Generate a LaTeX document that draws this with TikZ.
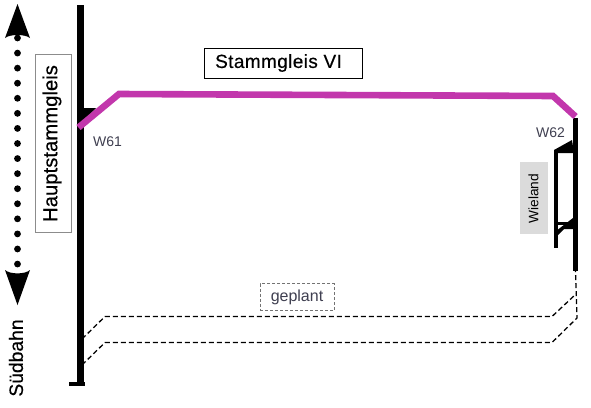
\documentclass[tikz,border=0pt]{standalone}
\usepackage{fontspec}
\setmainfont{Liberation Sans}
\newfontfamily\semibf[FakeBold=0.4]{Liberation Sans}
\definecolor{mag}{HTML}{C237AC}
\definecolor{lab}{HTML}{3F3F50}
\tikzset{
  x=1pt,y=-1pt,
  track/.style={line width=#1,draw=black},
  dashtrack/.style={draw=black,line width=1.3pt,dash pattern=on 5pt off 3pt},
  dots/.style={line width=6.8pt,line cap=round,dash pattern=on 0pt off 15.07pt},
  lab/.style={inner sep=0pt,text=lab,font=\fontsize{14}{14}\selectfont}
}
\begin{document}
\begin{tikzpicture}
\useasboundingbox (0,0) rectangle (591,407);
% main track
\coordinate (mainT) at (80.5,5);
\coordinate (mainB) at (80.5,384);
\coordinate (footL) at (69,384);
\coordinate (footR) at (85,384);
\draw[track=7.6pt] (mainT) -- (mainB);
\draw[track=3.4pt] (footL) -- (footR);
\fill (84,108) -- (96,108) -- (80,124) -- cycle;
% right tracks
\coordinate (rightT) at (575.5,118);
\coordinate (rightB) at (575.5,271);
\coordinate (wieT) at (556,152);
\coordinate (wieB) at (556,248);
\draw[track=4.4pt] (rightT) -- (rightB);
\draw[track=4.4pt] (wieT) -- (wieB);
\fill (554,150) -- (572,140) -- (574,153) -- (554,153) -- cycle;
\draw[track=3pt] (556,223) -- (574,223);
\fill (556,231) -- (573,218) -- (574,229) -- (564,229) -- (556,237) -- cycle;
% magenta
\coordinate (m1) at (78.5,127.5);
\coordinate (m2) at (119,94);
\coordinate (m3) at (553,96);
\coordinate (m4) at (575.5,116.5);
\draw[line width=6.6pt,draw=mag,line join=miter] (m1) -- (m2) -- (m3) -- (m4);
% dashed
\coordinate (d1) at (82,339);
\coordinate (d2) at (105,316.5);
\coordinate (d3) at (552,316.5);
\coordinate (d4) at (576,294);
\coordinate (e1) at (82,365);
\coordinate (e2) at (105,342.5);
\coordinate (e3) at (552,342.5);
\coordinate (e4) at (577,318);
\coordinate (e5) at (575.5,271);
\draw[dashtrack] (d1) -- (d2) -- (d3) -- (d4);
\draw[dashtrack] (e1) -- (e2) -- (e3) -- (e4) -- (e5);
% dotted arrow
\coordinate (dotT) at (17.5,38);
\coordinate (dotB) at (17.5,265);
\draw[dots] (dotT) -- (dotB);
\fill (17.5,4) -- (30,38) .. controls (25,34) and (10,34) .. (5,38) -- cycle;
\fill (17.5,305) -- (30,270) .. controls (25,274.5) and (10,274.5) .. (5,270) -- cycle;
% labels
\node[draw=black!45,fill=white,line width=.8pt,minimum width=36pt,minimum height=178pt,inner sep=0pt] (haupt) at (53,143) {};
\node[rotate=90,inner sep=0pt,font=\semibf\fontsize{20.3}{20.3}\selectfont] (hauptT) at (52,143.5) {Hauptstammgleis};
\node[draw=black,fill=white,line width=.8pt,minimum width=158pt,minimum height=30pt,inner sep=0pt] (stamm) at (283,63) {};
\node[inner sep=0pt,anchor=west,font=\semibf\fontsize{19}{19}\selectfont] (stammT) at (215,63) {\addfontfeature{LetterSpace=2}Stammgleis VI};
\node[lab] (w61) at (107.5,141.5) {W61};
\node[lab] (w62) at (550.5,133) {W62};
\node[fill=black!14,minimum width=28pt,minimum height=72pt,inner sep=0pt] (wbox) at (534,198) {};
\node[rotate=90,inner sep=0pt,font=\fontsize{13.7}{13.7}\selectfont] (wT) at (533.5,198.5) {Wieland};
\node[draw=black!55,densely dashed,line width=.6pt,minimum width=74pt,minimum height=27pt,inner sep=0pt,fill=white] (gep) at (297,297) {};
\node[lab,font=\fontsize{16}{16}\selectfont] (gepT) at (297,297) {geplant};
\node[rotate=90,inner sep=0pt,font=\semibf\fontsize{19.3}{19.3}\selectfont] (sued) at (16,358) {Südbahn};
\end{tikzpicture}
\end{document}
